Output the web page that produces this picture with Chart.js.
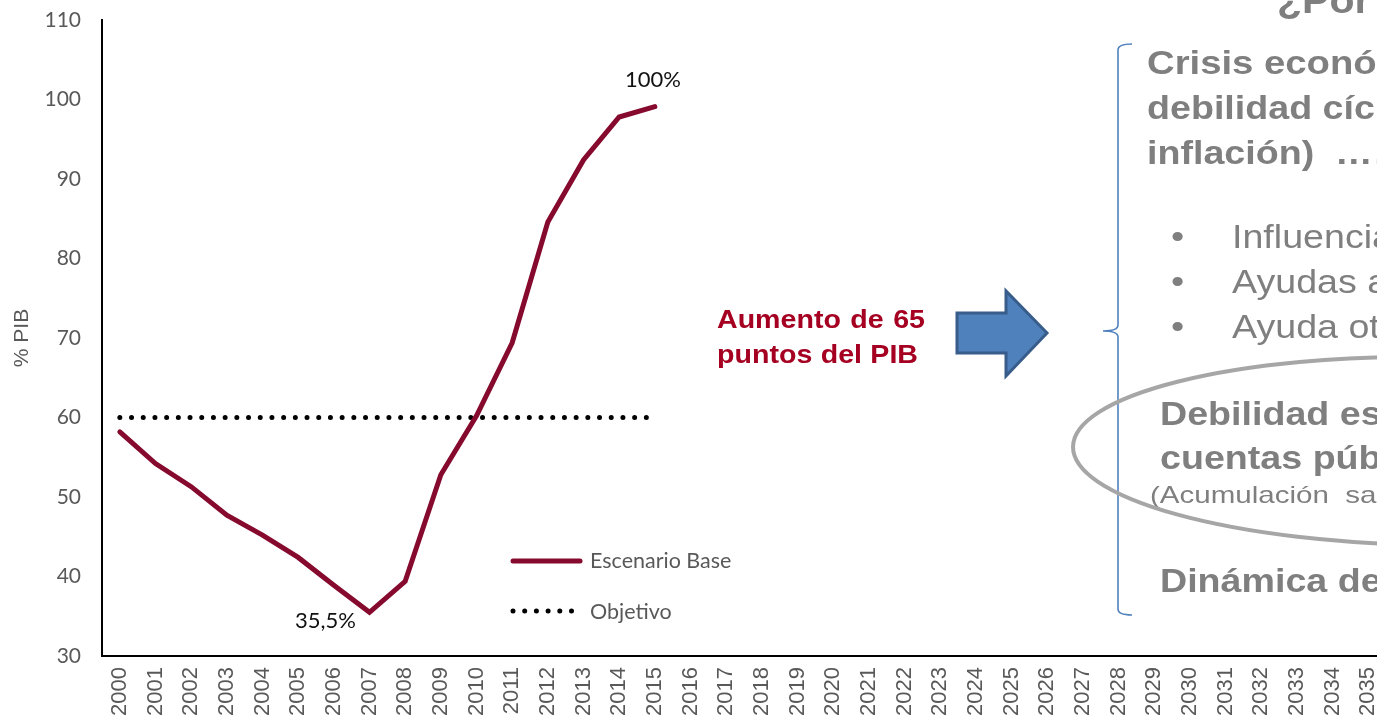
<!DOCTYPE html>
<html><head><meta charset="utf-8">
<script src="https://cdn.jsdelivr.net/npm/chart.js@4.4.1/dist/chart.umd.min.js"></script>
<style>
html,body{margin:0;padding:0;overflow:hidden;background:#fff}
#wrap{width:1377px;height:721px;overflow:hidden;position:relative}
#wrap canvas{position:absolute;left:0;top:0}
</style>
</head><body><div id="wrap"><canvas id="c" width="1400" height="721" style="width:1400px;height:721px"></canvas></div>
<script>
// ---- data ----
const years = ['2000','2001','2002','2003','2004','2005','2006','2007','2008','2009','2010','2011','2012','2013','2014','2015','2016','2017','2018','2019','2020','2021','2022','2023','2024','2025','2026','2027','2028','2029','2030','2031','2032','2033','2034','2035'];
const escenarioBase = [58.2, 54.2, 51.3, 47.7, 45.2, 42.4, 38.9, 35.5, 39.4, 52.8, 60.2, 69.4, 84.6, 92.4, 97.8, 99.1];
const objetivo = [60, 60, 60, 60, 60, 60, 60, 60, 60, 60, 60, 60, 60, 60, 60, 60];
const seriesNames = ['Escenario Base', 'Objetivo'];
const yMin = 30, yMax = 110, yStep = 10;
const yTitle = '% PIB';
const pointLabels = [{index: 15, text: '100%'}, {index: 7, text: '35,5%'}];
const redText = [['Aumento', 'de', '65'], ['puntos', 'del', 'PIB']];
const rightTitle = '¿Por qué?';
const crisisLines = ['Crisis económica (recesión,', 'debilidad cíclica, baja', 'inflación)  ………'];
const bulletLines = ['Influencia estabilizadores', 'Ayudas al sector financiero', 'Ayuda otros países'];
const debilidadLines = ['Debilidad estructural de las', 'cuentas públicas'];
const acumulacionLine = '(Acumulación  saldos negativos)';
const dinamicaLine = 'Dinámica de la deuda';

const RED = '#860A2E';
const GREY = '#595959';
const ANN = '#7F7F7F';
const SX = 1.14;

function sText(ctx, txt, x, y, font, color, sx) {
  ctx.save(); ctx.font = font; ctx.fillStyle = color; ctx.textBaseline = 'alphabetic'; ctx.textAlign = 'left';
  ctx.translate(x, y); ctx.scale(sx, 1); ctx.fillText(txt, 0, 0); ctx.restore();
}
function sWidth(ctx, txt, font, sx) { ctx.save(); ctx.font = font; const w = ctx.measureText(txt).width * sx; ctx.restore(); return w; }

const overlay = {
  id: 'overlay',
  afterDatasetsDraw(chart) {
    const ctx = chart.ctx;
    const xs = chart.scales.x, ys = chart.scales.y;
    const ds = chart.data.datasets;
    // point labels
    ctx.save();
    ctx.font = '22px Lato'; ctx.fillStyle = '#111'; ctx.textAlign = 'center'; ctx.textBaseline = 'middle';
    pointLabels.forEach(p => {
      const v = ds[0].data[p.index];
      const px = xs.getPixelForValue(p.index), py = ys.getPixelForValue(v);
      if (p.index === 15) ctx.fillText(p.text, px - 2, py - 27);
      else ctx.fillText(p.text, px - 44, py + 9);
    });
    ctx.restore();

    // legend
    ctx.save();
    const lx = 513, lx2 = 580;
    ctx.strokeStyle = ds[0].borderColor; ctx.lineWidth = 5; ctx.lineCap = 'round';
    ctx.beginPath(); ctx.moveTo(lx, 561); ctx.lineTo(lx2, 561); ctx.stroke();
    ctx.strokeStyle = ds[1].borderColor; ctx.setLineDash(ds[1].borderDash); ctx.lineWidth = 5;
    ctx.beginPath(); ctx.moveTo(lx, 611); ctx.lineTo(576, 611); ctx.stroke();
    ctx.setLineDash([]);
    ctx.font = '21.5px Lato'; ctx.fillStyle = GREY; ctx.textBaseline = 'middle'; ctx.textAlign = 'left';
    ctx.fillText(seriesNames[0], 590, 561);
    ctx.fillText(seriesNames[1], 590, 612);
    ctx.restore();

    // red text
    const rf = 'bold 26px "Liberation Sans"';
    const rc = '#A50021';
    const rsx = 1.1;
    const l1 = redText[0];
    const w = l1.map(t => sWidth(ctx, t, rf, rsx));
    const gap = (925 - 717 - w.reduce((a, b) => a + b, 0)) / 2;
    let x = 717;
    l1.forEach((t, i) => { sText(ctx, t, x, 328, rf, rc, rsx); x += w[i] + gap; });
    const l2 = redText[1];
    const w2 = l2.map(t => sWidth(ctx, t, rf, rsx));
    const gap2 = (918 - 717 - w2.reduce((a, b) => a + b, 0)) / 2;
    x = 717;
    l2.forEach((t, i) => { sText(ctx, t, x, 363, rf, rc, rsx); x += w2[i] + gap2; });

    // arrow
    ctx.save();
    ctx.beginPath();
    ctx.moveTo(957, 313); ctx.lineTo(1006, 313); ctx.lineTo(1006, 291); ctx.lineTo(1047, 333);
    ctx.lineTo(1006, 376); ctx.lineTo(1006, 353); ctx.lineTo(957, 353); ctx.closePath();
    ctx.fillStyle = '#4F81BD'; ctx.fill();
    ctx.strokeStyle = '#385D8A'; ctx.lineWidth = 3; ctx.lineJoin = 'miter'; ctx.stroke();
    ctx.restore();

    // brace
    ctx.save();
    ctx.strokeStyle = '#4F81BD'; ctx.lineWidth = 1.6;
    ctx.beginPath();
    ctx.moveTo(1132, 44); ctx.quadraticCurveTo(1118, 44, 1118, 50);
    ctx.lineTo(1118, 325); ctx.quadraticCurveTo(1118, 331, 1103, 331);
    ctx.moveTo(1103, 331); ctx.quadraticCurveTo(1118, 331, 1118, 337);
    ctx.lineTo(1118, 609); ctx.quadraticCurveTo(1118, 615, 1132, 615);
    ctx.stroke();
    ctx.restore();

    // right texts
    sText(ctx, rightTitle, 1277, 13, 'bold 36px "Liberation Sans"', ANN, SX);
    const bf = 'bold 33px "Liberation Sans"';
    crisisLines.forEach((t, i) => sText(ctx, t, 1147, 74 + i * 45, bf, ANN, i === 0 ? 1.16 : SX));
    const nf = '33px "Liberation Sans"';
    bulletLines.forEach((t, i) => {
      sText(ctx, '•', 1171, 248 + i * 45, nf, ANN, SX);
      sText(ctx, t, 1232, 248 + i * 45, nf, ANN, SX);
    });
    debilidadLines.forEach((t, i) => sText(ctx, t, 1160, 425 + i * 44, bf, ANN, SX));
    sText(ctx, acumulacionLine, 1150, 503, '24px "Liberation Sans"', ANN, 1.23);
    sText(ctx, dinamicaLine, 1160, 592, bf, ANN, SX);

    // ellipse
    ctx.save();
    ctx.strokeStyle = '#A6A6A6'; ctx.lineWidth = 4;
    ctx.beginPath(); ctx.ellipse(1430, 451, 357, 94, 0.012, 0, Math.PI * 2); ctx.stroke();
    ctx.restore();
  }
};

new Chart(document.getElementById('c'), {
  type: 'line',
  data: {
    labels: years,
    datasets: [
      {label: seriesNames[0], data: escenarioBase, borderColor: RED, borderWidth: 5, pointRadius: 0, tension: 0, fill: false, borderCapStyle: 'round', borderJoinStyle: 'miter'},
      {label: seriesNames[1], data: objetivo, borderColor: '#000', borderWidth: 5, borderDash: [0, 11.7], borderCapStyle: 'round', pointRadius: 0, tension: 0, fill: false}
    ]
  },
  options: {
    responsive: false,
    animation: false,
    events: [],
    layout: {padding: {left: 0, top: 20, right: 14, bottom: 0}},
    plugins: {legend: {display: false}, tooltip: {enabled: false}},
    scales: {
      x: {
        type: 'category',
        offset: true,
        grid: {display: false, drawTicks: false},
        border: {display: true, color: '#000', width: 2},
        ticks: {autoSkip: false, maxRotation: 90, minRotation: 90, padding: 11, color: GREY, font: {family: '"Liberation Sans"', size: 22}},
        afterFit(s) { s.height = 65; s.paddingLeft = 0; s.paddingRight = 0; }
      },
      y: {
        min: yMin, max: yMax,
        grid: {display: false, drawTicks: false},
        border: {display: true, color: '#000', width: 2},
        ticks: {stepSize: yStep, padding: 21, color: GREY, font: {family: 'Lato', size: 21}},
        title: {display: true, text: yTitle, color: GREY, font: {family: '"Liberation Sans"', size: 21}, padding: {top: 10, bottom: 0}},
        afterFit(s) { s.width = 102; s.paddingTop = 0; s.paddingBottom = 0; }
      }
    }
  },
  plugins: [overlay]
});
</script>
</body></html>
